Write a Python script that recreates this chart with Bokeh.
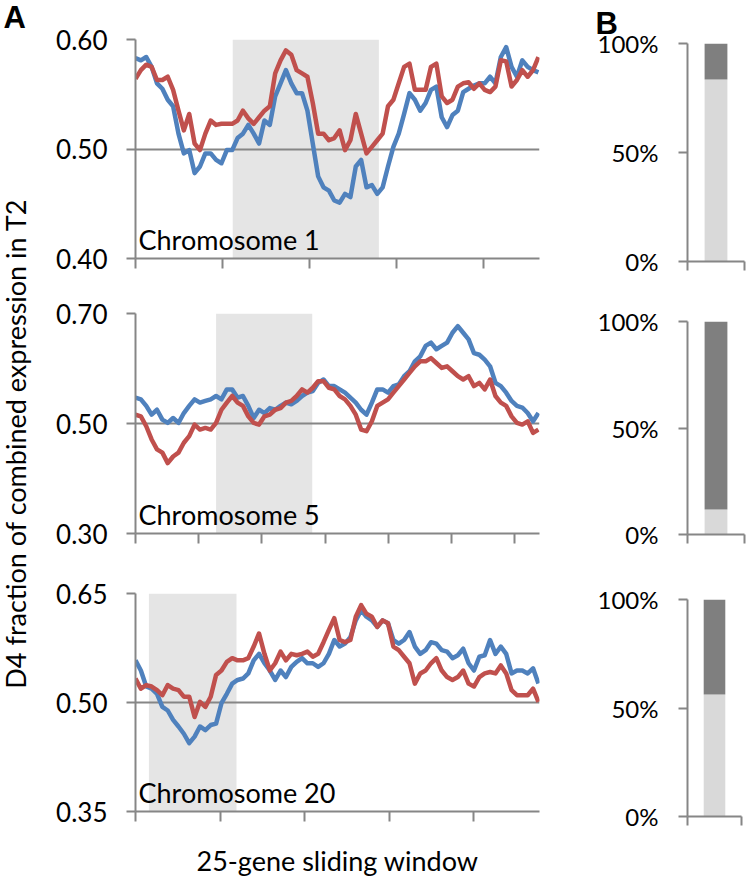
import numpy as np
from bokeh.plotting import figure
from bokeh.layouts import row, column
from bokeh.models import Range1d, FixedTicker, PrintfTickFormatter, BoxAnnotation, Label, Title
from bokeh.embed import file_html
from bokeh.resources import INLINE

# ---------------- data ----------------
chromosomes = ["Chromosome 1", "Chromosome 5", "Chromosome 20"]

chr1_blue = [0.583,0.581,0.584,0.575,0.560,0.555,0.545,0.539,0.514,0.496,
             0.499,0.478,0.484,0.496,0.496,0.490,0.487,0.499,0.499,0.510,
             0.514,0.522,0.514,0.505,0.526,0.522,0.548,0.560,0.572,0.560,
             0.551,0.551,0.535,0.505,0.475,0.465,0.462,0.453,0.451,0.459,
             0.456,0.484,0.490,0.465,0.467,0.459,0.465,0.484,0.502,0.514,
             0.532,0.551,0.545,0.535,0.542,0.554,0.557,0.529,0.520,0.531,
             0.535,0.552,0.555,0.558,0.560,0.560,0.566,0.560,0.584,0.593,
             0.575,0.566,0.581,0.575,0.572,0.570]
chr1_red = [0.564,0.572,0.577,0.575,0.563,0.563,0.566,0.554,0.535,0.517,
            0.532,0.505,0.499,0.514,0.526,0.522,0.523,0.523,0.523,0.526,
            0.535,0.528,0.523,0.529,0.535,0.539,0.569,0.581,0.590,0.586,
            0.572,0.569,0.566,0.542,0.514,0.514,0.508,0.510,0.517,0.499,
            0.508,0.532,0.514,0.496,0.502,0.508,0.514,0.539,0.545,0.560,
            0.575,0.578,0.554,0.554,0.554,0.575,0.578,0.548,0.542,0.545,
            0.557,0.560,0.561,0.555,0.560,0.554,0.552,0.557,0.581,0.580,
            0.557,0.563,0.572,0.566,0.572,0.584]
chr5_blue = [0.547,0.544,0.532,0.516,0.525,0.507,0.501,0.510,0.501,0.519,
             0.532,0.544,0.538,0.541,0.544,0.550,0.544,0.562,0.562,0.547,
             0.550,0.532,0.510,0.525,0.519,0.528,0.525,0.532,0.538,0.535,
             0.541,0.550,0.556,0.559,0.574,0.580,0.568,0.568,0.562,0.556,
             0.547,0.538,0.525,0.516,0.538,0.562,0.562,0.556,0.568,0.571,
             0.586,0.595,0.613,0.622,0.641,0.647,0.635,0.641,0.647,0.665,
             0.677,0.665,0.653,0.628,0.625,0.616,0.604,0.574,0.568,0.556,
             0.541,0.532,0.529,0.519,0.504,0.519]
chr5_red = [0.516,0.513,0.495,0.471,0.453,0.447,0.428,0.440,0.447,0.465,
            0.477,0.498,0.489,0.492,0.489,0.501,0.525,0.538,0.550,0.538,
            0.532,0.513,0.501,0.498,0.513,0.516,0.525,0.528,0.538,0.541,
            0.550,0.562,0.556,0.565,0.577,0.577,0.565,0.562,0.550,0.544,
            0.532,0.516,0.489,0.486,0.504,0.532,0.538,0.544,0.556,0.568,
            0.580,0.592,0.604,0.613,0.613,0.619,0.610,0.601,0.604,0.595,
            0.586,0.580,0.586,0.568,0.574,0.562,0.580,0.550,0.538,0.532,
            0.513,0.501,0.498,0.504,0.483,0.489]
chr20_blue = [0.558,0.544,0.522,0.519,0.512,0.494,0.489,0.476,0.467,0.457,
              0.444,0.453,0.467,0.462,0.469,0.471,0.499,0.512,0.526,0.531,
              0.533,0.540,0.558,0.567,0.554,0.544,0.531,0.544,0.535,0.549,
              0.556,0.561,0.554,0.554,0.549,0.554,0.567,0.586,0.577,0.581,
              0.590,0.613,0.627,0.618,0.613,0.604,0.613,0.609,0.586,0.581,
              0.586,0.597,0.577,0.567,0.572,0.583,0.581,0.572,0.570,0.561,
              0.565,0.574,0.554,0.544,0.563,0.565,0.586,0.567,0.577,0.567,
              0.540,0.544,0.544,0.540,0.547,0.526]
chr20_red = [0.533,0.519,0.524,0.522,0.517,0.510,0.524,0.519,0.517,0.508,
             0.508,0.480,0.501,0.494,0.508,0.538,0.544,0.556,0.561,0.558,
             0.558,0.561,0.577,0.595,0.567,0.544,0.554,0.570,0.558,0.567,
             0.565,0.567,0.570,0.563,0.567,0.583,0.600,0.616,0.586,0.583,
             0.586,0.618,0.634,0.622,0.618,0.604,0.613,0.609,0.577,0.572,
             0.563,0.554,0.526,0.540,0.544,0.554,0.561,0.544,0.535,0.531,
             0.535,0.544,0.526,0.522,0.535,0.540,0.542,0.540,0.551,0.540,
             0.517,0.510,0.510,0.510,0.519,0.501]

blue_series = [chr1_blue, chr5_blue, chr20_blue]
red_series = [chr1_red, chr5_red, chr20_red]

y_ticks = [[0.40, 0.50, 0.60], [0.30, 0.50, 0.70], [0.35, 0.50, 0.65]]
highlight_start = [18.1, 15.0, 2.5]
highlight_end = [45.3, 32.9, 18.8]
x_tick_step = [16.2, 11.77, 15.75]
x_end = 75.2

bar_light = [83.5, 11.7, 56.2]   # % light part of each bar
bar_ticks = [0, 50, 100]

y_title = "D4 fraction of combined expression in T2"
x_title = "25-gene sliding window"

# ---------------- style ----------------
BLUE = "#4F81BD"
RED = "#C0504D"
GRAY = "#868686"
BAND = "#E5E5E5"
DARK = "#7F7F7F"
LIGHT = "#D9D9D9"
FONT = "Lato"

a_frame_h = [219, 220, 218]
a_top = [39, 28, 30]
a_bottom = [27, 30, 60]

b_frame_h = [218, 213, 217]
b_frame_w = [57, 57, 54]
b_left = [112, 112, 117]
b_right = [7, 7, 5]
b_top = [43, 30, 35]
b_bottom = [30, 30, 20]


def style_common(p):
    p.outline_line_color = None
    p.background_fill_color = "white"
    p.border_fill_color = "white"


def style_axis(ax):
    ax.axis_line_color = GRAY
    ax.axis_line_width = 2
    ax.major_tick_line_color = GRAY
    ax.major_tick_line_width = 2
    ax.major_tick_in = 0
    ax.minor_tick_line_color = GRAY
    ax.minor_tick_line_width = 2
    ax.minor_tick_in = 0


def make_a(i):
    lo, hi = y_ticks[i][0], y_ticks[i][-1]
    p = figure(frame_width=404, frame_height=a_frame_h[i],
               x_range=Range1d(0, x_end), y_range=Range1d(lo, hi),
               min_border_left=87, min_border_right=31,
               min_border_top=a_top[i], min_border_bottom=a_bottom[i],
               output_backend="svg", toolbar_location=None)
    style_common(p)
    band = BoxAnnotation(left=highlight_start[i], right=highlight_end[i],
                         fill_color=BAND, fill_alpha=1.0, line_color=None,
                         level="image")
    p.add_layout(band)
    x = np.arange(len(blue_series[i]))
    p.line(x, blue_series[i], line_color=BLUE, line_width=4.5, line_join="round")
    p.line(x, red_series[i], line_color=RED, line_width=4.5, line_join="round")

    p.xgrid.visible = False
    style_axis(p.xaxis[0])
    style_axis(p.yaxis[0])
    p.yaxis.ticker = FixedTicker(ticks=y_ticks[i])
    p.yaxis.formatter = PrintfTickFormatter(format="%.2f")
    p.ygrid.grid_line_color = GRAY
    p.ygrid.grid_line_width = 2
    p.yaxis.major_tick_out = 9
    p.yaxis.minor_tick_out = 0
    p.yaxis.major_label_standoff = 19
    p.yaxis.major_label_text_font = FONT
    p.yaxis.major_label_text_font_size = "26px"
    p.yaxis.major_label_text_color = "black"
    # category boundary ticks without labels -> minor ticks only
    p.xaxis.ticker = FixedTicker(ticks=[],
                                 minor_ticks=list(np.arange(0, x_end, x_tick_step[i])))
    p.xaxis.minor_tick_out = 10
    p.xaxis.major_tick_out = 10
    p.xaxis.major_label_standoff = 0

    p.add_layout(Label(x=0, y=lo + 0.087 * (hi - lo), x_offset=3,
                       text=chromosomes[i], text_font=FONT,
                       text_font_size="27px", text_color="black",
                       text_baseline="alphabetic"))
    return p


def make_b(i):
    p = figure(frame_width=b_frame_w[i], frame_height=b_frame_h[i],
               x_range=Range1d(0, 1), y_range=Range1d(0, 100),
               min_border_left=b_left[i], min_border_right=b_right[i],
               min_border_top=b_top[i], min_border_bottom=b_bottom[i],
               output_backend="svg", toolbar_location=None)
    style_common(p)
    p.vbar(x=[0.5], width=0.4, bottom=[0], top=[bar_light[i]],
           fill_color=LIGHT, line_color=None)
    p.vbar(x=[0.5], width=0.4, bottom=[bar_light[i]], top=[100],
           fill_color=DARK, line_color=None)
    p.xgrid.visible = False
    p.ygrid.visible = False
    style_axis(p.xaxis[0])
    style_axis(p.yaxis[0])
    p.yaxis.ticker = FixedTicker(ticks=bar_ticks)
    p.yaxis.formatter = PrintfTickFormatter(format="%d%%")
    p.yaxis.major_tick_out = 9
    p.yaxis.minor_tick_out = 0
    p.yaxis.major_label_standoff = 20
    p.yaxis.major_label_text_font = FONT
    p.yaxis.major_label_text_font_size = "24px"
    p.yaxis.major_label_text_color = "black"
    p.xaxis.ticker = FixedTicker(ticks=[], minor_ticks=[0, 1])
    p.xaxis.minor_tick_out = 9
    p.xaxis.major_tick_out = 9
    p.xaxis.major_label_standoff = 0
    return p


a_figs = [make_a(i) for i in range(3)]
b_figs = [make_b(i) for i in range(3)]

# x-axis title below the last A panel
a_figs[2].xaxis.axis_label = x_title
a_figs[2].xaxis.axis_label_text_font = FONT
a_figs[2].xaxis.axis_label_text_font_size = "27px"
a_figs[2].xaxis.axis_label_text_font_style = "normal"
a_figs[2].xaxis.axis_label_text_color = "black"
a_figs[2].xaxis.axis_label_standoff = 22

# panel letter "B" as the title of the first B figure, shifted left
b_figs[0].title = Title(text="B", align="left", offset=-(b_left[0] - 20),
                        text_font="Liberation Sans", text_font_style="bold",
                        text_font_size="31px", text_color="black",
                        standoff=5)

# left strip with "A" and the shared y-axis title (data units = page pixels)
total_h = sum(a_frame_h) + sum(a_top) + sum(a_bottom)
lab_w = 48
lab = figure(width=lab_w, height=total_h, x_range=Range1d(0, lab_w),
             y_range=Range1d(total_h, 0), min_border=0, title=None,
             x_axis_location=None, y_axis_location=None,
             output_backend="svg", toolbar_location=None)
style_common(lab)
lab.xgrid.visible = False
lab.ygrid.visible = False
lab.add_layout(Label(x=3, y=17, text="A", text_font="Liberation Sans",
                     text_font_style="bold", text_font_size="31px",
                     text_color="black", text_baseline="alphabetic"))
lab.add_layout(Label(x=15, y=443, text=y_title, angle=np.pi / 2,
                     text_font=FONT, text_font_size="27px", text_color="black",
                     text_align="center", text_baseline="middle"))

layout = row(lab, column(*a_figs), column(*b_figs))

open("out.html", "w").write(file_html(layout, INLINE))
